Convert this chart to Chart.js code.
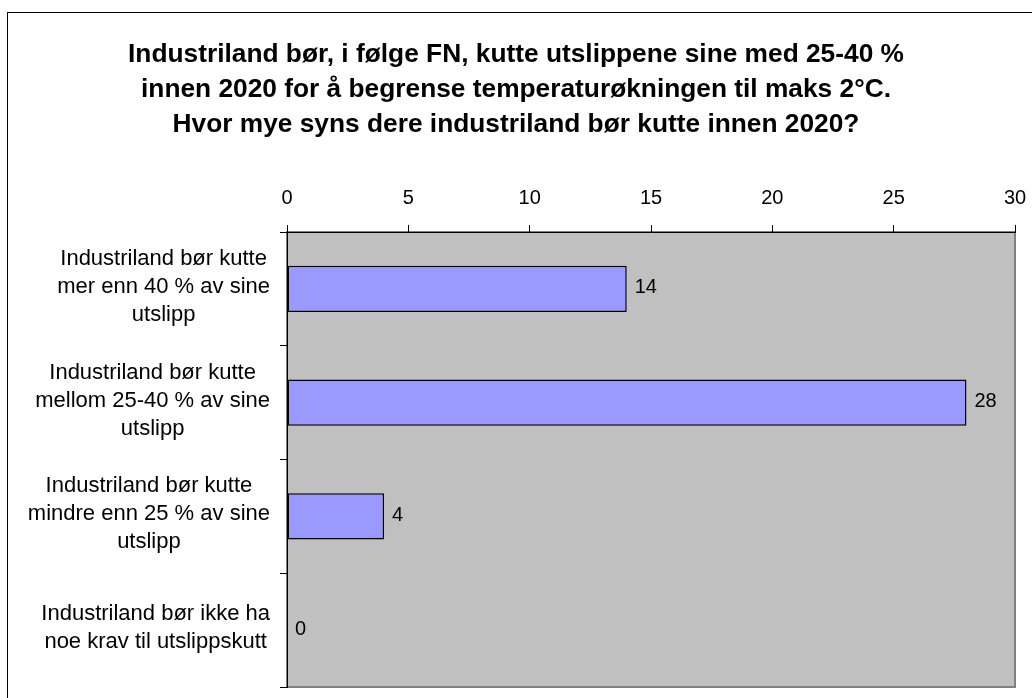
<!DOCTYPE html>
<html>
<head>
<meta charset="utf-8">
<title>Industriland kutt</title>
<script src="https://cdn.jsdelivr.net/npm/chart.js@4/dist/chart.umd.min.js"></script>
<style>
    html, body { margin: 0; padding: 0; background: #ffffff; }
    #wrap { width: 1032px; height: 698px; position: relative; }
</style>
</head>
<body>
<div id="wrap"><canvas id="surveyChart" width="1032" height="698"></canvas></div>
<script>
// --- Chart data ---
const titleLines = [
    'Industriland bør, i følge FN, kutte utslippene sine med 25-40 %',
    'innen 2020 for å begrense temperaturøkningen til maks 2°C.',
    'Hvor mye syns dere industriland bør kutte innen 2020?'
];
const categories = [
    ['Industriland bør kutte', 'mer enn 40 % av sine', 'utslipp'],
    ['Industriland bør kutte', 'mellom 25-40 % av sine', 'utslipp'],
    ['Industriland bør kutte', 'mindre enn 25 % av sine', 'utslipp'],
    ['Industriland bør ikke ha', 'noe krav til utslippskutt']
];
const answers = [14, 28, 4, 0];
const xTicks = [0, 5, 10, 15, 20, 25, 30];

const FONT = '"Liberation Sans", Arial, sans-serif';

// --- Plugin: outer frame + grey plot area ---
const frameAndPlot = {
    id: 'frameAndPlot',
    beforeDraw(chart) {
        const ctx = chart.ctx;
        const a = chart.chartArea;
        ctx.save();
        ctx.strokeStyle = '#000000';
        ctx.lineWidth = 1;
        ctx.strokeRect(7.5, 12.5, 1100, 800); // frame runs off the right/bottom edge
        ctx.fillStyle = '#C0C0C0';
        ctx.fillRect(a.left, a.top, a.right - a.left, a.bottom - a.top);
        ctx.strokeStyle = '#808080';
        ctx.lineWidth = 2;
        ctx.strokeRect(a.left, a.top, a.right - a.left, a.bottom - a.top);
        ctx.restore();
    }
};

// --- Plugin: category labels (block right-aligned, lines centred) and value labels ---
const labelsPlugin = {
    id: 'labelsPlugin',
    afterDraw(chart) {
        const ctx = chart.ctx;
        const yScale = chart.scales.y;
        const meta = chart.getDatasetMeta(0);
        ctx.save();
        ctx.fillStyle = '#000000';
        ctx.textBaseline = 'middle';

        // category labels
        ctx.font = '22px ' + FONT;
        ctx.textAlign = 'center';
        const lineH = 28;
        const blockRight = 270;
        categories.forEach((lines, i) => {
            const cy = yScale.getPixelForTick(i) - 2;
            let widest = 0;
            lines.forEach(l => { widest = Math.max(widest, ctx.measureText(l).width); });
            const cx = blockRight - widest / 2;
            const startY = cy - (lines.length - 1) * lineH / 2;
            lines.forEach((l, j) => ctx.fillText(l, cx, startY + j * lineH));
        });

        // value labels
        ctx.font = '20px ' + FONT;
        ctx.textAlign = 'left';
        meta.data.forEach((bar, i) => {
            ctx.fillText(String(answers[i]), bar.x + 8, bar.y - 1);
        });
        ctx.restore();
    }
};

function renderChart() {
    const ctx = document.getElementById('surveyChart').getContext('2d');
    new Chart(ctx, {
        type: 'bar',
        data: {
            labels: categories,
            datasets: [{
                data: answers,
                backgroundColor: '#9999FF',
                borderColor: '#000000',
                borderWidth: 1.5,
                borderSkipped: false,
                categoryPercentage: 1.0,
                barPercentage: 0.405
            }]
        },
        options: {
            indexAxis: 'y',
            responsive: false,
            animation: false,
            layout: { padding: { left: 17, right: 17, top: 0, bottom: 11 } },
            scales: {
                x: {
                    position: 'top',
                    min: 0,
                    max: 30,
                    afterBuildTicks: scale => { scale.ticks = xTicks.map(v => ({ value: v })); },
                    afterFit: scale => {
                        scale.height = 90;
                        scale.paddingLeft = 0;   // keep tick labels from shrinking the plot
                        scale.paddingRight = 0;
                    },
                    grid: { drawOnChartArea: false, drawTicks: true, tickLength: 7, color: '#000000' },
                    border: { color: '#000000', width: 1 },
                    ticks: { color: '#000000', padding: 15, font: { family: FONT, size: 20 } }
                },
                y: {
                    afterFit: scale => { scale.width = 270; },
                    grid: { drawOnChartArea: false, drawTicks: true, tickLength: 7, color: '#000000', offset: true },
                    border: { color: '#000000', width: 1 },
                    ticks: { display: false }
                }
            },
            plugins: {
                legend: { display: false },
                tooltip: { enabled: false },
                title: {
                    display: true,
                    text: titleLines,
                    color: '#000000',
                    font: { family: FONT, size: 26.3, weight: 'bold', lineHeight: 35 / 26.3 },
                    padding: { top: 37, bottom: 0 }
                }
            }
        },
        plugins: [frameAndPlot, labelsPlugin]
    });
}

document.addEventListener('DOMContentLoaded', renderChart);
</script>
</body>
</html>
